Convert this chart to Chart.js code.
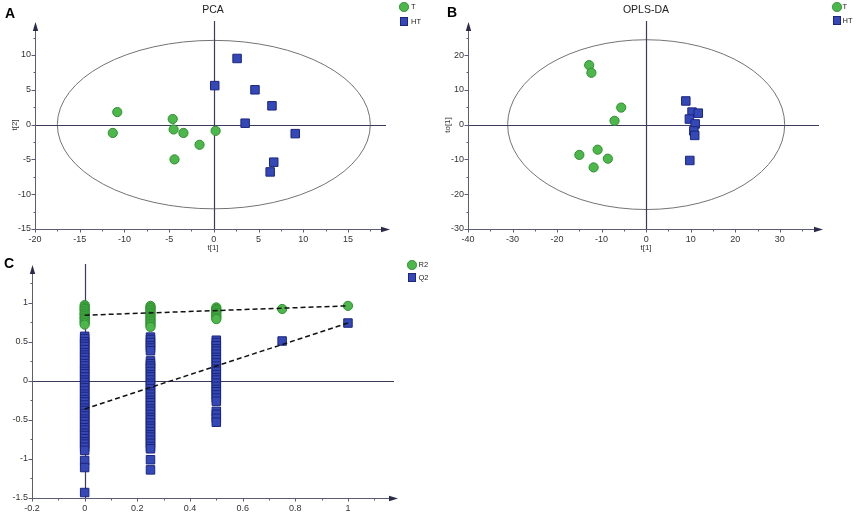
<!DOCTYPE html>
<html>
<head>
<meta charset="utf-8">
<title>PCA / OPLS-DA / permutation</title>
<script src="https://cdn.jsdelivr.net/npm/chart.js@4.4.0/dist/chart.umd.min.js"></script>
<style>
  body { margin: 0; background: #fff; }
  #wrap { position: relative; width: 856px; height: 514px; overflow: hidden;
          font-family: "Liberation Sans", Arial, sans-serif; color: #333; }
  canvas { position: absolute; }
  .lbl { position: absolute; white-space: nowrap; line-height: 1; }
  .panel { font-size: 14px; font-weight: bold; color: #000; }
  .title { font-size: 10.5px; transform: translateX(-50%); color: #222; }
  .axt { font-size: 8px; transform: translate(-50%, -50%); }
  .axt.v { transform: translate(-50%, -50%) rotate(-90deg); }
  .leg { font-size: 7.5px; color: #222; }
  .mk { position: absolute; box-sizing: border-box; }
  .mk.c { width: 9.5px; height: 9.5px; border-radius: 50%; background: #4cb84c; border: 1px solid #2f8f2f; }
  .mk.s { width: 8.5px; height: 8.5px; background: #3448b8; border: 1px solid #1c2680; }
</style>
</head>
<body>
<div id="wrap">
  <canvas id="pca" width="420" height="250" style="left:0;top:0"></canvas>
  <canvas id="opls" width="436" height="250" style="left:420px;top:0"></canvas>
  <canvas id="perm" width="430" height="264" style="left:0;top:250px"></canvas>

  <div class="lbl panel" style="left:5px;top:6px">A</div>
  <div class="lbl panel" style="left:447px;top:5px">B</div>
  <div class="lbl panel" style="left:4px;top:256px">C</div>

  <div class="lbl title" style="left:213px;top:4px">PCA</div>
  <div class="lbl title" style="left:646px;top:4px">OPLS-DA</div>

  <div class="lbl axt v" style="left:15px;top:125px">t[2]</div>
  <div class="lbl axt" style="left:213px;top:248px">t[1]</div>
  <div class="lbl axt v" style="left:448px;top:125px">to[1]</div>
  <div class="lbl axt" style="left:646px;top:248px">t[1]</div>

  <div class="mk c" style="left:399px;top:2px"></div>
  <div class="lbl leg" style="left:411px;top:3px">T</div>
  <div class="mk s" style="left:399.5px;top:17px"></div>
  <div class="lbl leg" style="left:411px;top:18px">HT</div>

  <div class="mk c" style="left:832px;top:2px"></div>
  <div class="lbl leg" style="left:842.5px;top:3px">T</div>
  <div class="mk s" style="left:832.5px;top:16px"></div>
  <div class="lbl leg" style="left:842.5px;top:17px">HT</div>

  <div class="mk c" style="left:407px;top:260px"></div>
  <div class="lbl leg" style="left:418.5px;top:261px">R2</div>
  <div class="mk s" style="left:407.5px;top:273px"></div>
  <div class="lbl leg" style="left:418.5px;top:274px">Q2</div>
</div>

<script>
// PCA scores
const pcaTX  = [-10.8, -11.3, -4.6, -4.5, -3.4, 0.2, -1.6, -4.4];
const pcaTY  = [1.8, -1.2, 0.8, -0.7, -1.2, -0.9, -2.9, -5.0];
const pcaHTX = [2.6, 0.1, 4.6, 6.5, 3.5, 9.1, 6.7, 6.3];
const pcaHTY = [9.5, 5.6, 5.0, 2.7, 0.2, -1.3, -5.4, -6.8];

// OPLS-DA scores
const oplsTX  = [-12.8, -12.3, -5.6, -7.1, -10.9, -15.0, -8.6, -11.8];
const oplsTY  = [17.1, 14.9, 4.9, 1.1, -7.2, -8.7, -9.8, -12.3];
const oplsHTX = [8.9, 10.3, 11.7, 9.7, 11.0, 10.7, 10.9, 9.8];
const oplsHTY = [6.8, 3.6, 3.3, 1.6, 0.2, -1.8, -3.1, -10.3];

// permutation test (x = correlation with original y)
const r2At0   = [0.97, 0.95, 0.93, 0.92, 0.90, 0.88, 0.86, 0.85, 0.83, 0.81, 0.80, 0.78, 0.76, 0.74, 0.72];
const r2At025 = [0.96, 0.94, 0.93, 0.91, 0.89, 0.87, 0.85, 0.83, 0.81, 0.79, 0.77, 0.75, 0.73, 0.71, 0.69];
const r2At05  = [0.94, 0.92, 0.91, 0.89, 0.87, 0.85, 0.83, 0.81, 0.79];
const r2At075 = [0.92];
const r2At1   = [0.96];
const q2At0   = [0.57, 0.54, 0.50, 0.47, 0.44, 0.40, 0.36, 0.33, 0.30, 0.26, 0.22, 0.19, 0.15, 0.12, 0.09,
                 0.05, 0.01, -0.02, -0.06, -0.09, -0.13, -0.17, -0.20, -0.24, -0.27, -0.31, -0.35, -0.38,
                 -0.42, -0.45, -0.49, -0.52, -0.56, -0.60, -0.63, -0.67, -0.70, -0.74, -0.78, -0.81, -0.85,
                 -0.89, -1.02, -1.11, -1.43];
const q2At025 = [0.56, 0.53, 0.49, 0.45, 0.42, 0.385, 0.255, 0.22, 0.19, 0.16, 0.12, 0.08, 0.05, 0.01, -0.03,
                 -0.06, -0.10, -0.14, -0.17, -0.21, -0.25, -0.28, -0.32, -0.36, -0.39, -0.43, -0.47, -0.50,
                 -0.54, -0.58, -0.61, -0.65, -0.69, -0.72, -0.76, -0.80, -0.84, -0.87, -1.01, -1.14];
const q2At05  = [0.52, 0.49, 0.45, 0.41, 0.38, 0.34, 0.30, 0.27, 0.23, 0.19, 0.15, 0.12, 0.08, 0.04, 0.01,
                 -0.03, -0.07, -0.11, -0.14, -0.18, -0.22, -0.26, -0.39, -0.43, -0.48, -0.53];
const q2At075 = [0.51];
const q2At1   = [0.74];
const fitX    = [0, 1];
const r2FitY  = [0.84, 0.96];
const q2FitY  = [-0.36, 0.74];

// tick labels
const pcaXTicks  = [-20, -15, -10, -5, 0, 5, 10, 15];
const pcaYTicks  = [-15, -10, -5, 0, 5, 10];
const oplsXTicks = [-40, -30, -20, -10, 0, 10, 20, 30];
const oplsYTicks = [-30, -20, -10, 0, 10, 20];
const permXTicks = [-0.2, 0, 0.2, 0.4, 0.6, 0.8, 1];
const permYTicks = [-1.5, -1, -0.5, 0, 0.5, 1];

const green = '#4cb84c', greenEdge = '#2f8f2f';
const blue = '#3448b8', blueEdge = '#1c2680';
const axisColor = '#5c5c76', crossColor = '#3a3a5c';

function pts(xs, ys) { return xs.map((x, i) => ({ x: x, y: ys[i] })); }
function column(x, ys) { return ys.map(y => ({ x: x, y: y })); }

function circles(data) {
  return { data: data, pointStyle: 'circle', pointRadius: 4.6, borderWidth: 1,
           backgroundColor: green, borderColor: greenEdge, order: 2 };
}
function squares(data) {
  return { data: data, pointStyle: 'rect', pointRadius: 6, borderWidth: 1,
           backgroundColor: blue, borderColor: blueEdge, order: 1 };
}
function fitLine(ys) {
  return { data: pts(fitX, ys), showLine: true, pointRadius: 0, borderColor: '#111',
           borderWidth: 1.5, borderDash: [5, 3], order: 0 };
}

// crosshair, ellipse, axis lines with arrows and tick marks
const axesPlugin = {
  id: 'scoreAxes',
  beforeDatasetsDraw(chart, args, opts) {
    const ctx = chart.ctx, a = chart.chartArea;
    const sx = chart.scales.x, sy = chart.scales.y;
    ctx.save();
    if (opts.ellipse) {
      const cx = sx.getPixelForValue(0), cy = sy.getPixelForValue(0);
      const rx = sx.getPixelForValue(opts.ellipse[0]) - cx;
      const ry = cy - sy.getPixelForValue(opts.ellipse[1]);
      ctx.beginPath();
      ctx.ellipse(cx, cy, rx, ry, 0, 0, Math.PI * 2);
      ctx.strokeStyle = '#737373';
      ctx.lineWidth = 1;
      ctx.stroke();
    }
    const x0 = Math.round(sx.getPixelForValue(0)) + 0.5;
    const y0 = Math.round(sy.getPixelForValue(0)) + 0.5;
    ctx.strokeStyle = crossColor;
    ctx.lineWidth = 1.2;
    ctx.beginPath();
    ctx.moveTo(x0, a.top - 1); ctx.lineTo(x0, a.bottom);
    ctx.moveTo(a.left, y0); ctx.lineTo(a.right - 4, y0);
    ctx.stroke();

    const L = Math.round(a.left) + 0.5, B = Math.round(a.bottom) + 0.5;
    ctx.strokeStyle = axisColor;
    ctx.fillStyle = '#2a2a4a';
    ctx.lineWidth = 1;
    ctx.beginPath();
    ctx.moveTo(L, B); ctx.lineTo(L, a.top + 4);
    ctx.moveTo(L, B); ctx.lineTo(a.right - 4, B);
    // minor ticks
    for (let v = sx.min; v <= sx.max + 1e-9; v += opts.xMinor) {
      const p = Math.round(sx.getPixelForValue(v)) + 0.5;
      ctx.moveTo(p, B); ctx.lineTo(p, B + 2);
    }
    for (let v = sy.min; v <= sy.max + 1e-9; v += opts.yMinor) {
      const p = Math.round(sy.getPixelForValue(v)) + 0.5;
      ctx.moveTo(L, p); ctx.lineTo(L - 2, p);
    }
    sx.ticks.forEach(t => {
      const p = Math.round(sx.getPixelForValue(t.value)) + 0.5;
      ctx.moveTo(p, B); ctx.lineTo(p, B + 3);
    });
    sy.ticks.forEach(t => {
      const p = Math.round(sy.getPixelForValue(t.value)) + 0.5;
      ctx.moveTo(L, p); ctx.lineTo(L - 4, p);
    });
    ctx.stroke();
    // arrow heads
    ctx.beginPath();
    ctx.moveTo(L, a.top); ctx.lineTo(L - 2.7, a.top + 9); ctx.lineTo(L + 2.7, a.top + 9); ctx.closePath();
    ctx.moveTo(a.right, B); ctx.lineTo(a.right - 9, B - 2.7); ctx.lineTo(a.right - 9, B + 2.7); ctx.closePath();
    ctx.fill();
    ctx.restore();
  }
};

const tickFont = { family: '"Liberation Sans Narrow", "Liberation Sans", Arial, sans-serif', size: 9 };

function makeChart(id, datasets, cfg) {
  return new Chart(document.getElementById(id), {
    type: 'scatter',
    data: { datasets: datasets },
    options: {
      responsive: false,
      animation: false,
      events: [],
      layout: { padding: cfg.pad },
      plugins: { legend: { display: false }, tooltip: { enabled: false }, scoreAxes: cfg.axes },
      scales: {
        x: {
          type: 'linear', min: cfg.xMin, max: cfg.xMax,
          grid: { display: false, drawTicks: false }, border: { display: false },
          afterBuildTicks: s => { s.ticks = cfg.xTicks.map(v => ({ value: v })); },
          afterFit: s => { s.height = cfg.xH; },
          ticks: { padding: 5, color: '#333', font: tickFont, autoSkip: false, maxRotation: 0,
                   callback: v => String(v) }
        },
        y: {
          type: 'linear', min: cfg.yMin, max: cfg.yMax,
          grid: { display: false, drawTicks: false }, border: { display: false },
          afterBuildTicks: s => { s.ticks = cfg.yTicks.map(v => ({ value: v })); },
          afterFit: s => { s.width = cfg.yW; },
          ticks: { padding: 4, color: '#333', font: tickFont, autoSkip: false,
                   callback: v => String(v) }
        }
      }
    },
    plugins: [axesPlugin]
  });
}

makeChart('pca', [
  circles(pts(pcaTX, pcaTY)),
  squares(pts(pcaHTX, pcaHTY))
], {
  pad: { left: 0, top: 22, right: 30, bottom: 0 }, xH: 21, yW: 35,
  xMin: -20, xMax: 19.7, yMin: -15, yMax: 14.74,
  xTicks: pcaXTicks, yTicks: pcaYTicks,
  axes: { ellipse: [17.5, 12.1], xMinor: 2.5, yMinor: 2.5 }
});

makeChart('opls', [
  circles(pts(oplsTX, oplsTY)),
  squares(pts(oplsHTX, oplsHTY))
], {
  pad: { left: 0, top: 22, right: 33, bottom: 0 }, xH: 21, yW: 48,
  xMin: -40, xMax: 39.7, yMin: -30, yMax: 29.5,
  xTicks: oplsXTicks, yTicks: oplsYTicks,
  axes: { ellipse: [31.1, 24.4], xMinor: 5, yMinor: 5 }
});

makeChart('perm', [
  fitLine(r2FitY),
  fitLine(q2FitY),
  circles([].concat(column(0, r2At0), column(0.25, r2At025), column(0.5, r2At05),
                    column(0.75, r2At075), column(1, r2At1))),
  squares([].concat(column(0, q2At0), column(0.25, q2At025), column(0.5, q2At05),
                    column(0.75, q2At075), column(1, q2At1)))
], {
  pad: { left: 0, top: 15, right: 32, bottom: 0 }, xH: 16, yW: 32,
  xMin: -0.2, xMax: 1.19, yMin: -1.5, yMax: 1.483,
  xTicks: permXTicks, yTicks: permYTicks,
  axes: { ellipse: null, xMinor: 0.1, yMinor: 0.25 }
});
</script>
</body>
</html>
